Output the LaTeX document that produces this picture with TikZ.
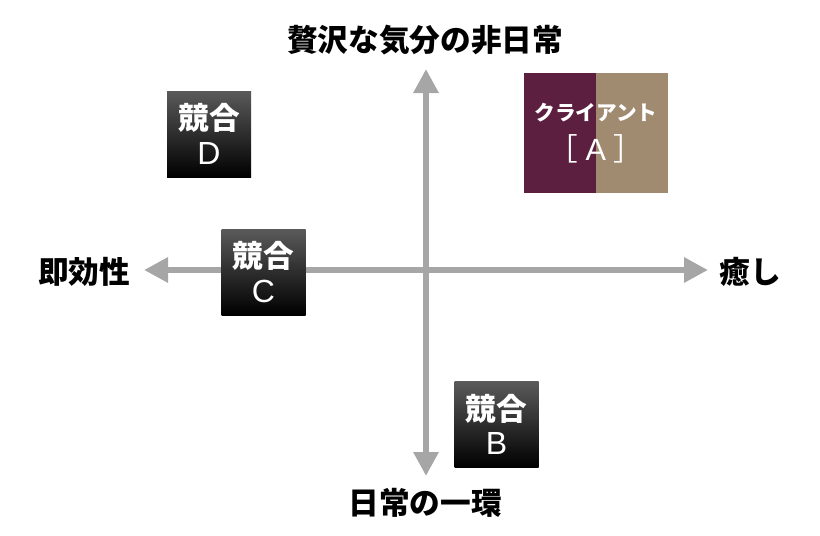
\documentclass[tikz,border=0pt]{standalone}
\usepackage{fontspec}
\setmainfont{Noto Sans CJK JP}
\newfontfamily\latin{Liberation Sans}
\usetikzlibrary{arrows.meta,positioning}
\definecolor{AxisGray}{HTML}{A6A6A6}
\definecolor{Plum}{HTML}{5C1F40}
\definecolor{Khaki}{HTML}{A08A70}
\definecolor{Ash}{HTML}{5A5A5A}

\begin{document}
\begin{tikzpicture}[x=0.75pt, y=-0.75pt,
    axis/.style={draw=AxisGray, line width=4.5pt,
        {Triangle[length=18pt, width=18pt]}-{Triangle[length=18pt, width=18pt]}},
    axislabel/.style={font=\fontsize{23}{26}\selectfont\bfseries, text=black},
    rival/.style={top color=Ash, bottom color=black, minimum width=63pt, minimum height=64.5pt,
        inner sep=0pt, text=white, align=center, font=\fontsize{23}{26}\selectfont\bfseries},
    half/.style={minimum width=53.5pt, minimum height=90pt, inner sep=0pt}]
    \useasboundingbox (0,0) rectangle (820,535);

    % Axis ends
    \coordinate (top) at (426,69);
    \coordinate (bottom) at (426,476);
    \coordinate (left) at (144,270);
    \coordinate (right) at (708,270);

    % Axes
    \draw[axis] (bottom) -- (top);
    \draw[axis] (left) -- (right);

    % Axis labels
    \node[axislabel] (luxury) at (425,40) {贅沢な気分の非日常};
    \node[axislabel] (routine) at (425,503) {日常の一環};
    \node[axislabel] (quick) at (84,272) {即効性};
    \node[axislabel] (healing) at (750,272) {癒し};

    % Competitors
    \node[rival] (rivalD) at (209,134) {競合\\\latin\mdseries\fontsize{24}{26}\selectfont D};
    \node[rival] (rivalC) at (263.5,272) {競合\\\latin\mdseries\fontsize{24}{26}\selectfont C};
    \node[rival] (rivalB) at (496.5,424.5) {競合\\\latin\mdseries\fontsize{24}{26}\selectfont B};

    % Client
    \node[half, fill=Plum] (clientL) at (560,133) {};
    \node[half, fill=Khaki, right=0pt of clientL] (clientR) {};
    \node[text=white, align=center, font=\fontsize{23}{30}\selectfont\bfseries] (client) at (clientL.east)
        {{\fontsize{15.5}{18}\selectfont クライアント}\\\mdseries［\hspace{0.25em}{\latin A}\hspace{0.25em}］};
\end{tikzpicture}
\end{document}
